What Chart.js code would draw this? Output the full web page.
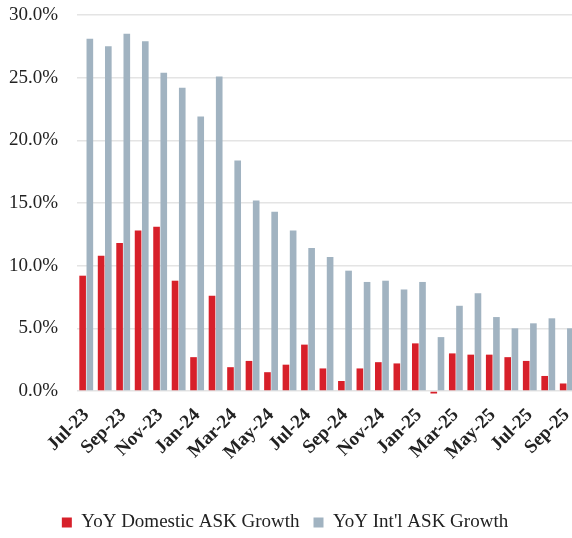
<!DOCTYPE html>
<html>
<head>
<meta charset="utf-8">
<script src="https://cdn.jsdelivr.net/npm/chart.js@4.4.1/dist/chart.umd.min.js"></script>
<style>
  html, body { margin: 0; padding: 0; background: #fff; overflow: hidden; }
  #wrap { width: 576px; height: 538px; }
</style>
</head>
<body>
<div id="wrap"><canvas id="chart"></canvas></div>
<script>
// months Jul-23 .. Sep-25
const months = ['Jul-23', 'Aug-23', 'Sep-23', 'Oct-23', 'Nov-23', 'Dec-23',
    'Jan-24', 'Feb-24', 'Mar-24', 'Apr-24', 'May-24', 'Jun-24', 'Jul-24', 'Aug-24', 'Sep-24',
    'Oct-24', 'Nov-24', 'Dec-24', 'Jan-25', 'Feb-25', 'Mar-25', 'Apr-25', 'May-25', 'Jun-25',
    'Jul-25', 'Aug-25', 'Sep-25'];

const domesticGrowth = [9.2, 10.8, 11.8, 12.8, 13.1, 8.8, 2.7, 7.6, 1.9, 2.4, 1.5, 2.1, 3.7,
    1.8, 0.8, 1.8, 2.3, 2.2, 3.8, -0.2, 3.0, 2.9, 2.9, 2.7, 2.4, 1.2, 0.6];

const intlGrowth = [28.1, 27.5, 28.5, 27.9, 25.4, 24.2, 21.9, 25.1, 18.4, 15.2, 14.3, 12.8, 11.4,
    10.7, 9.6, 8.7, 8.8, 8.1, 8.7, 4.3, 6.8, 7.8, 5.9, 5.0, 5.4, 5.8, 5.0];

const yTicks = [0, 5, 10, 15, 20, 25, 30];

const serif = '"Liberation Serif", "Times New Roman", serif';

const ctx = document.getElementById('chart').getContext('2d');
new Chart(ctx, {
    type: 'bar',
    data: {
        labels: months,
        datasets: [{
            label: 'YoY Domestic ASK Growth',
            data: domesticGrowth,
            backgroundColor: '#d7202a',
            clip: false,
            barPercentage: 0.92,
            categoryPercentage: 0.78
        }, {
            label: "YoY Int'l ASK Growth",
            data: intlGrowth,
            backgroundColor: '#a1b3c1',
            clip: false,
            barPercentage: 0.92,
            categoryPercentage: 0.78
        }]
    },
    options: {
        responsive: true,
        maintainAspectRatio: false,
        animation: false,
        layout: {
            // negative left padding only nudges the centred legend to the left
            padding: { top: 15, left: -6, right: 0, bottom: -4 }
        },
        plugins: {
            legend: {
                position: 'bottom',
                labels: {
                    boxWidth: 10,
                    boxHeight: 10,
                    padding: 14,
                    color: '#222',
                    font: { family: serif, size: 19 }
                }
            },
            tooltip: { enabled: false }
        },
        scales: {
            x: {
                grid: { display: false },
                border: { display: false },
                ticks: {
                    autoSkip: false,
                    maxRotation: 45,
                    minRotation: 45,
                    padding: 5,
                    color: '#222',
                    font: { family: serif, size: 19, weight: 'bold' },
                    callback: function(value, index) {
                        return index % 2 === 0 ? this.getLabelForValue(value) : '';
                    }
                },
                afterFit: function(scale) {
                    // let the rotated first label hang into the y-axis area
                    scale.height = 108;
                    scale.paddingLeft = 0;
                    scale.paddingRight = 0;
                }
            },
            y: {
                min: 0,
                max: 30,
                afterBuildTicks: function(scale) {
                    scale.ticks = yTicks.map(v => ({ value: v }));
                },
                afterFit: function(scale) {
                    scale.width = 83;
                    scale.paddingTop = 0;
                    scale.paddingBottom = 0;
                },
                grid: {
                    color: '#e4e4e4',
                    lineWidth: 1.5,
                    drawTicks: false
                },
                border: { display: false },
                ticks: {
                    padding: 19,
                    color: '#222',
                    font: { family: serif, size: 19 },
                    callback: function(value) {
                        return value.toFixed(1) + '%';
                    }
                }
            }
        }
    }
});
</script>
</body>
</html>
